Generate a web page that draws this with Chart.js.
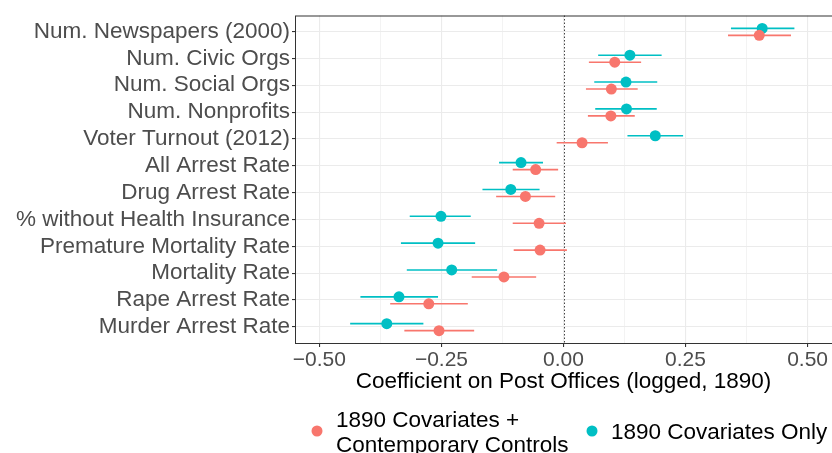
<!DOCTYPE html>
<html>
<head>
<meta charset="utf-8">
<script src="https://cdn.jsdelivr.net/npm/chart.js@4"></script>
<style>
  html, body { margin: 0; padding: 0; background: #fff; }
  #wrap { width: 832px; height: 453px; position: relative; }
</style>
</head>
<body>
<div id="wrap"><canvas id="coefChart" width="832" height="453"></canvas></div>
<script>
const categories = [
    'Num. Newspapers (2000)', 'Num. Civic Orgs', 'Num. Social Orgs', 'Num. Nonprofits',
    'Voter Turnout (2012)', 'All Arrest Rate', 'Drug Arrest Rate', '% without Health Insurance',
    'Premature Mortality Rate', 'Mortality Rate', 'Rape Arrest Rate', 'Murder Arrest Rate'
];

// 1890 Covariates + Contemporary Controls
const contempEst = [0.401, 0.105, 0.098, 0.097, 0.038, -0.057, -0.078, -0.050, -0.048, -0.122, -0.276, -0.255];
const contempLo  = [0.337, 0.052, 0.046, 0.050, -0.014, -0.104, -0.138, -0.104, -0.102, -0.188, -0.355, -0.326];
const contempHi  = [0.466, 0.159, 0.152, 0.146, 0.091, -0.011, -0.017, 0.005, 0.007, -0.056, -0.196, -0.183];

// 1890 Covariates Only
const baseEst = [0.407, 0.136, 0.128, 0.129, 0.188, -0.087, -0.108, -0.251, -0.257, -0.229, -0.337, -0.362];
const baseLo  = [0.343, 0.071, 0.063, 0.065, 0.131, -0.132, -0.166, -0.315, -0.333, -0.321, -0.416, -0.437];
const baseHi  = [0.473, 0.201, 0.192, 0.191, 0.245, -0.042, -0.049, -0.190, -0.181, -0.136, -0.257, -0.287];

const xTicks = [-0.5, -0.375, -0.25, -0.125, 0, 0.125, 0.25, 0.375, 0.5];
const seriesNames = ['1890 Covariates +\nContemporary Controls', '1890 Covariates Only'];

const SALMON = '#F8766D';
const TEAL = '#00BFC4';
const FONT = "'Liberation Sans', Arial, sans-serif";

// dodge within each category row
const dodgeContemp = 0.14;
const dodgeBase = -0.12;

function toPoints(est, dodge) {
    return est.map((v, i) => ({ x: v, y: i + dodge }));
}

const isMajor = v => Math.abs(v * 4 - Math.round(v * 4)) < 1e-9;

function fmtTick(v) {
    if (!isMajor(v)) return '';
    const s = Math.abs(v).toFixed(2);
    return v < 0 ? '\u2212' + s : s;
}

// error bars, zero line, panel border and legend
const whiskerPlugin = {
    id: 'whiskers',
    beforeDatasetsDraw(chart) {
        const { ctx, chartArea, scales } = chart;
        const xs = scales.x, ys = scales.y;

        // dotted zero line
        ctx.save();
        ctx.strokeStyle = '#444';
        ctx.lineWidth = 1;
        ctx.setLineDash([1.5, 2]);
        const zx = Math.round(xs.getPixelForValue(0)) + 0.5;
        ctx.beginPath();
        ctx.moveTo(zx, chartArea.top);
        ctx.lineTo(zx, chartArea.bottom);
        ctx.stroke();
        ctx.restore();

        const drawBars = (lo, hi, dodge, color) => {
            ctx.save();
            ctx.strokeStyle = color;
            ctx.lineWidth = 1.6;
            lo.forEach((l, i) => {
                const y = ys.getPixelForValue(i + dodge);
                ctx.beginPath();
                ctx.moveTo(xs.getPixelForValue(l), y);
                ctx.lineTo(xs.getPixelForValue(hi[i]), y);
                ctx.stroke();
            });
            ctx.restore();
        };
        drawBars(baseLo, baseHi, dodgeBase, TEAL);
        drawBars(contempLo, contempHi, dodgeContemp, SALMON);
    },
    afterDraw(chart) {
        const { ctx, chartArea } = chart;
        ctx.save();
        ctx.strokeStyle = '#333';
        ctx.lineWidth = 1;
        ctx.strokeRect(chartArea.left + 0.5, chartArea.top + 0.5,
            chartArea.right - chartArea.left, chartArea.bottom - chartArea.top);

        // legend
        const items = [
            { color: SALMON, text: seriesNames[0], dotX: 317, y: 431 },
            { color: TEAL, text: seriesNames[1], dotX: 592, y: 431 }
        ];
        ctx.font = '22.5px ' + FONT;
        ctx.textBaseline = 'middle';
        ctx.textAlign = 'left';
        items.forEach(it => {
            ctx.fillStyle = it.color;
            ctx.beginPath();
            ctx.arc(it.dotX, it.y, 5.5, 0, Math.PI * 2);
            ctx.fill();
            ctx.fillStyle = '#000';
            const lines = it.text.split('\n');
            const lh = 25;
            const y0 = it.y - (lines.length - 1) * lh / 2;
            lines.forEach((ln, k) => ctx.fillText(ln, it.dotX + 19, y0 + k * lh + 2));
        });
        ctx.restore();
    }
};

const ctx = document.getElementById('coefChart').getContext('2d');
new Chart(ctx, {
    type: 'scatter',
    data: {
        datasets: [
            {
                label: seriesNames[0],
                data: toPoints(contempEst, dodgeContemp),
                backgroundColor: SALMON,
                borderColor: SALMON,
                pointRadius: 5.5,
                borderWidth: 0
            },
            {
                label: seriesNames[1],
                data: toPoints(baseEst, dodgeBase),
                backgroundColor: TEAL,
                borderColor: TEAL,
                pointRadius: 5.5,
                borderWidth: 0
            }
        ]
    },
    options: {
        responsive: false,
        animation: false,
        layout: { autoPadding: false, padding: { top: 10, right: 0, bottom: 0, left: 0 } },
        plugins: {
            legend: { display: false },
            tooltip: { enabled: false }
        },
        scales: {
            x: {
                type: 'linear',
                min: -0.55,
                max: 0.55,
                afterBuildTicks: scale => { scale.ticks = xTicks.map(v => ({ value: v })); },
                afterFit: scale => { scale.height = 110; },
                border: { display: false },
                grid: {
                    color: '#EBEBEB',
                    lineWidth: c => isMajor(c.tick.value) ? 1.1 : 0.6,
                    tickColor: c => isMajor(c.tick.value) ? '#333' : 'rgba(0,0,0,0)',
                    tickLength: 4
                },
                ticks: {
                    callback: v => fmtTick(v),
                    color: '#4D4D4D',
                    font: { family: FONT, size: 21 },
                    padding: 1,
                    autoSkip: false,
                    maxRotation: 0
                },
                title: {
                    display: true,
                    text: 'Coefficient on Post Offices (logged, 1890)',
                    color: '#000',
                    font: { family: FONT, size: 22.5 },
                    padding: { top: 0, bottom: 58 }
                }
            },
            y: {
                type: 'linear',
                reverse: true,
                min: -0.6,
                max: 11.6,
                afterBuildTicks: scale => { scale.ticks = categories.map((c, i) => ({ value: i })); },
                afterFit: scale => { scale.width = 295; },
                border: { display: false },
                grid: {
                    color: '#EBEBEB',
                    lineWidth: 1.1,
                    tickColor: '#333',
                    tickLength: 3
                },
                ticks: {
                    callback: v => categories[v],
                    color: '#4D4D4D',
                    font: { family: FONT, size: 22.5 },
                    padding: 2,
                    autoSkip: false
                }
            }
        }
    },
    plugins: [whiskerPlugin]
});
</script>
</body>
</html>
